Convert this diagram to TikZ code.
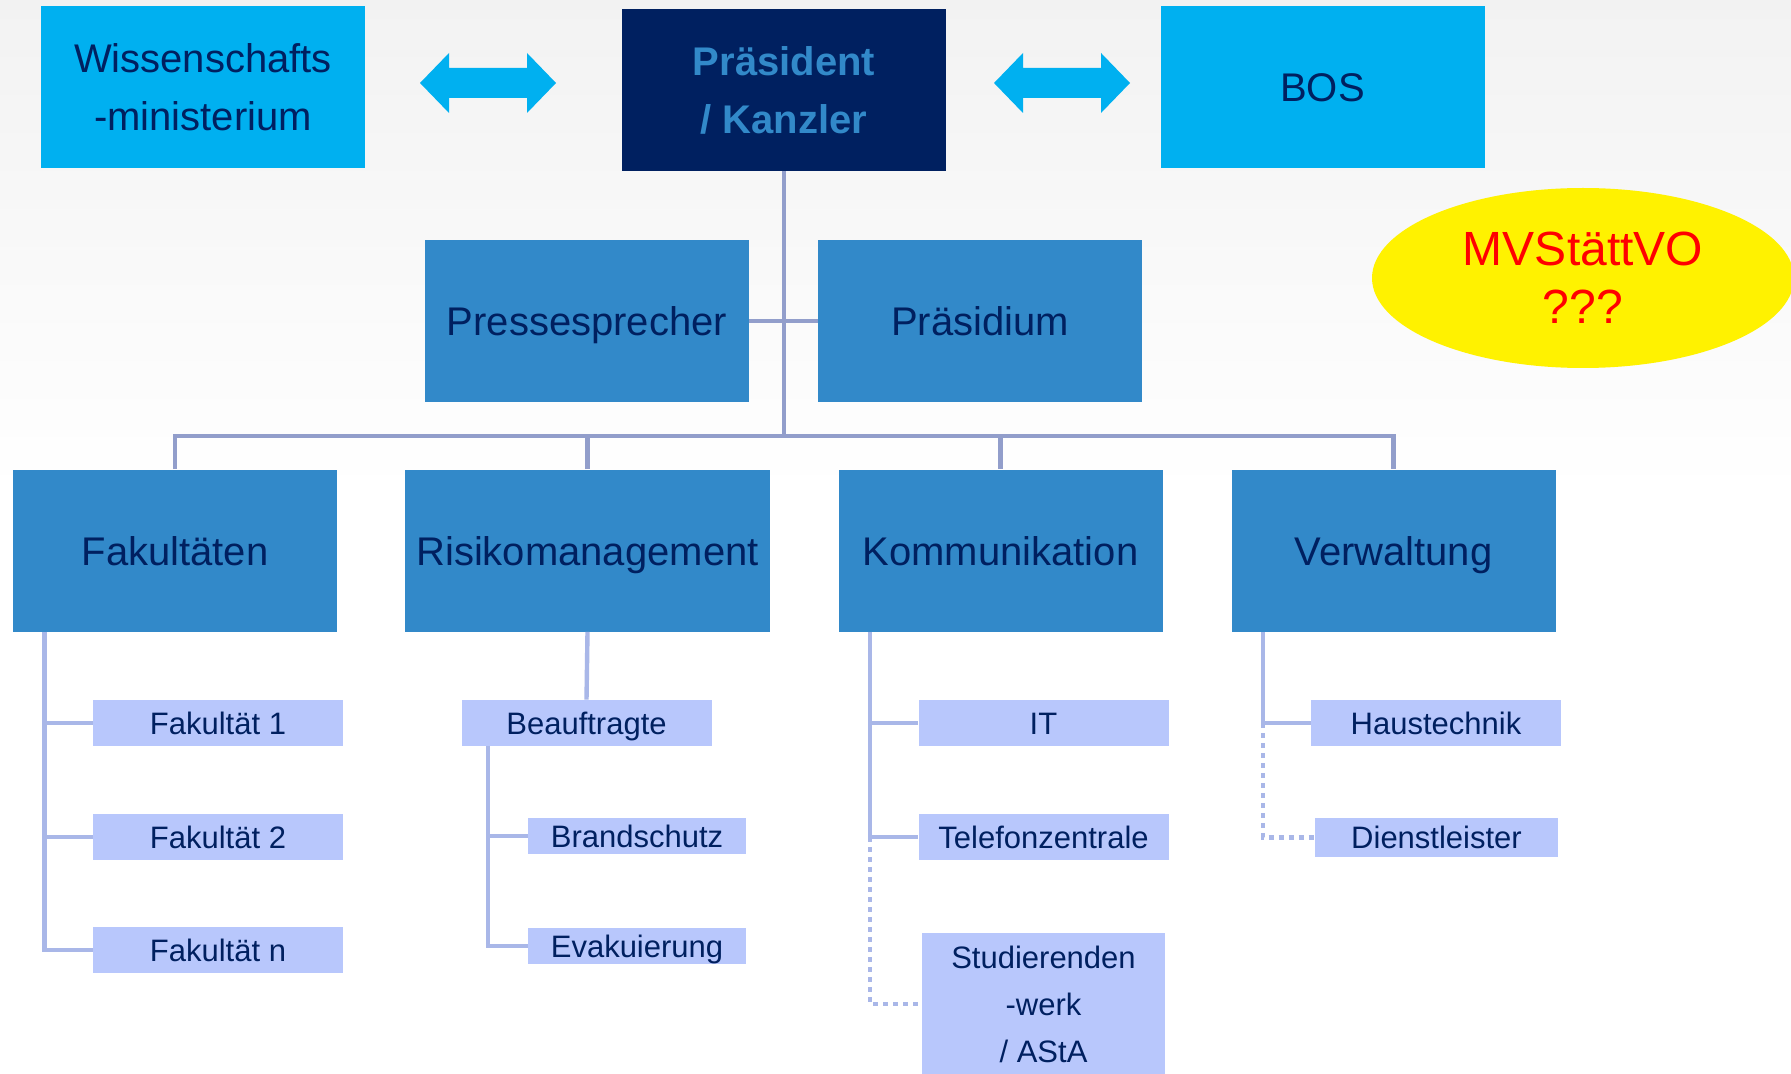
\documentclass[tikz,border=0pt]{standalone}
\usepackage{fontspec}
\setmainfont{Liberation Sans}
\usepackage{tikz}
\usepackage{xcolor}
\usetikzlibrary{shapes.geometric}

\definecolor{skyblue}{HTML}{00B0F0}
\definecolor{navy}{HTML}{002060}
\definecolor{midblue}{HTML}{3289C9}
\definecolor{subblue}{HTML}{B8C7FC}
\definecolor{busline}{HTML}{929ECB}
\definecolor{subline}{HTML}{A9B7E8}
\definecolor{bgtop}{HTML}{F2F2F2}

\begin{document}
\begin{tikzpicture}[x=0.5pt, y=-0.5pt,
  bigbox/.style={rectangle, inner sep=0pt, minimum width=162pt, minimum height=81pt, align=center, text=navy, font=\fontsize{20pt}{29pt}\selectfont},
  rowbox/.style={bigbox, fill=midblue, text height=14.5pt, text depth=0pt},
  subbox/.style={rectangle, fill=subblue, inner sep=0pt, minimum width=125pt, minimum height=23pt, align=center, text=navy, font=\fontsize{15.5pt}{23.5pt}\selectfont},
  oneline/.style={text height=11.3pt, text depth=0pt},
  bus/.style={busline, line width=2.2pt},
  twig/.style={subline, line width=2.2pt},
  dottwig/.style={twig, dash pattern=on 2.5pt off 2.5pt},
  dblarrow/.style={fill=skyblue}]
\useasboundingbox (0,0) rectangle (1791,1074);
\fill[white] (0,0) rectangle (1791,1074);
\fill[top color=bgtop, bottom color=white!98!bgtop] (0,0) rectangle (1791,483);

% top row
\node (wiss) at (203,87.5) [bigbox, fill=skyblue]{Wissenschafts\\-ministerium};
\node (praes) at (784,90) [bigbox, fill=navy, text=midblue, font=\fontsize{20pt}{29pt}\selectfont\bfseries]{Präsident\\/ Kanzler};
\node (bos) at (1322.5,87.5) [bigbox, fill=skyblue, text height=14.5pt, text depth=0pt]{BOS};
\node (mvst) at (1583,278) [ellipse, fill=yellow, inner sep=0pt, minimum width=211pt, minimum height=90pt, align=center, text=red, font=\fontsize{24pt}{29pt}\selectfont]{MVStättVO\\???};

\fill[dblarrow] (420,83) -- (449,53) -- (449,68) -- (527,68) -- (527,53) -- (556,83) -- (527,113) -- (527,98) -- (449,98) -- (449,113) -- cycle;
\fill[dblarrow, xshift=287pt] (420,83) -- (449,53) -- (449,68) -- (527,68) -- (527,53) -- (556,83) -- (527,113) -- (527,98) -- (449,98) -- (449,113) -- cycle;

% staff
\node (presse) at (587,321) [rowbox]{Pressesprecher};
\node (praesidium) at (980,321) [rowbox]{Präsidium};

% departments
\node (fak) at (175,550.5) [rowbox]{Fakultäten};
\node (risk) at (587.5,550.5) [rowbox, minimum width=182.5pt]{Risikomanagement};
\node (komm) at (1000.5,550.5) [rowbox]{Kommunikation};
\node (verw) at (1393.5,550.5) [rowbox]{Verwaltung};

\coordinate (hub) at (784,436);
\draw[bus] (praes.south) -- (hub);
\draw[bus] (presse.east) -- (praesidium.west);
\draw[bus] (fak.north) -- (fak.north |- hub) -- (verw.north |- hub) -- (verw.north);
\draw[bus] (risk.north) -- (risk.north |- hub);
\draw[bus] (komm.north) -- (komm.north |- hub);

% sub units
\node (fak1) at (218,723) [subbox, oneline]{Fakultät 1};
\node (fak2) at (218,837) [subbox, oneline]{Fakultät 2};
\node (fakn) at (218,950) [subbox, oneline]{Fakultät n};
\node (beauf) at (586.5,723) [subbox, oneline]{Beauftragte};
\node (brand) at (637,836) [subbox, oneline, minimum width=109pt, minimum height=18pt]{Brandschutz};
\node (evak) at (637,946) [subbox, oneline, minimum width=109pt, minimum height=18pt]{Evakuierung};
\node (it) at (1043.5,723) [subbox, oneline]{IT};
\node (tel) at (1043.5,837) [subbox, oneline]{Telefonzentrale};
\node (stud) at (1043.5,1004) [subbox, minimum width=121.5pt, minimum height=71.5pt]{Studierenden\\-werk\\/ AStA};
\node (haus) at (1436,723) [subbox, oneline]{Haustechnik};
\node (dienst) at (1436.5,837.5) [subbox, oneline, minimum width=121.5pt, minimum height=19.5pt]{Dienstleister};

\draw[twig] ([xshift=16pt]fak.south west) |- (fakn.west);
\draw[twig] ([xshift=16pt]fak.south west) |- (fak1.west);
\draw[twig] ([xshift=16pt]fak.south west) |- (fak2.west);
\draw[twig] (risk.south) -- (beauf.north);
\draw[twig] ([xshift=13.5pt]beauf.south west) |- (evak.west);
\draw[twig] ([xshift=13.5pt]beauf.south west) |- (brand.west);
\draw[twig] ([xshift=16pt]komm.south west) |- (tel.west);
\draw[twig] ([xshift=16pt]komm.south west) |- (it.west);
\draw[dottwig] ([xshift=16pt]komm.south west |- tel.west) |- (stud.west);
\draw[twig] ([xshift=16pt]verw.south west) |- (haus.west);
\draw[dottwig] ([xshift=16pt]verw.south west |- haus.west) |- (dienst.west);
\end{tikzpicture}
\end{document}
